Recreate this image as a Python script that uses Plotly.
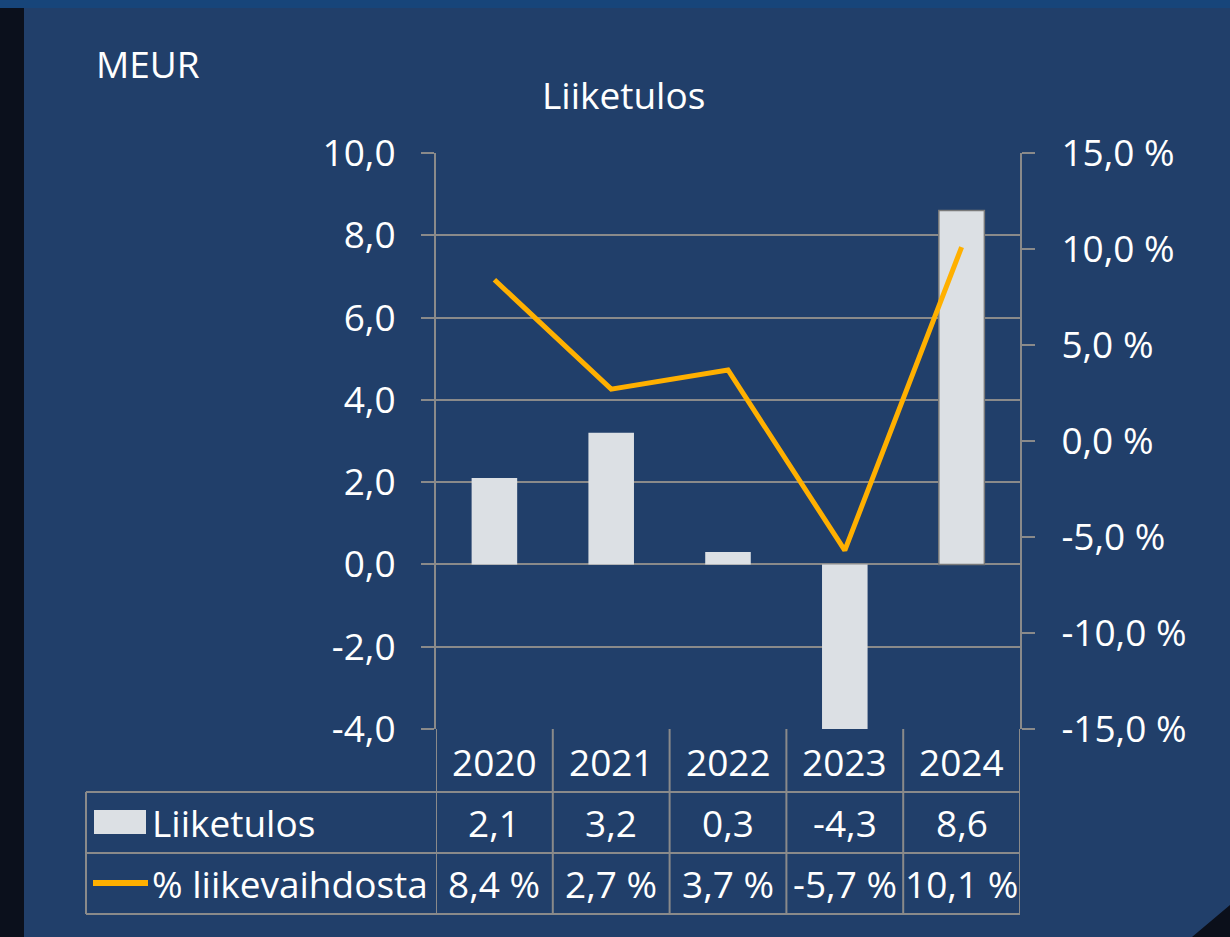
import plotly.graph_objects as go

# ---- data ----
years = ["2020", "2021", "2022", "2023", "2024"]
liiketulos = [2.1, 3.2, 0.3, -4.3, 8.6]
pct_liikevaihdosta = [8.4, 2.7, 3.7, -5.7, 10.1]
left_ticks = [-4, -2, 0, 2, 4, 6, 8, 10]
right_ticks = [-15, -10, -5, 0, 5, 10, 15]
series_names = ["Liiketulos", "% liikevaihdosta"]
chart_title = "Liiketulos"
unit_label = "MEUR"

# ---- layout helpers (pixel -> paper) ----
W, H = 1230, 937
def px(p):
    return p / W
def py(p):
    return 1 - p / H

X0, X1 = 436, 1020          # plot area left/right
YT, YB = 153, 729           # plot area top/bottom
ROW1, ROW2, ROW3 = 792, 853, 914

FONT = "Open Sans"
FS = 37
GRID = "#8a8a8a"
BAR = "#dce0e4"
LINE = "#FFB000"
WHITE = "#ffffff"

def fmt(v, suffix=""):
    return f"{v:.1f}".replace(".", ",") + suffix

fig = go.Figure()
fig.add_trace(go.Bar(
    x=years, y=liiketulos, name=series_names[0], width=0.39,
    marker=dict(color=BAR,
                line=dict(color=["rgba(0,0,0,0)"] * 4 + ["#7a7a7a"], width=1.5)),
    yaxis="y", showlegend=False,
))
fig.add_trace(go.Scatter(
    x=years, y=pct_liikevaihdosta, name=series_names[1], mode="lines",
    line=dict(color=LINE, width=5), yaxis="y2", showlegend=False,
))

shapes = []
# background panel
shapes.append(dict(type="rect", xref="paper", yref="paper", x0=0, x1=1, y0=py(8), y1=1,
                   fillcolor="#17457a", line_width=0, layer="below"))
shapes.append(dict(type="rect", xref="paper", yref="paper", x0=px(24), x1=1, y0=0, y1=py(8),
                   fillcolor="#213f6a", line_width=0, layer="below"))
shapes.append(dict(type="path", xref="paper", yref="paper",
                   path=f"M {px(1230)} {py(905)} L {px(1230)} {py(937)} L {px(1192)} {py(937)} Z",
                   fillcolor="#0b0f1a", line_width=0, layer="below"))

# table: vertical lines at category boundaries
for i in range(len(years) + 1):
    shapes.append(dict(type="line", xref="x", yref="paper", x0=i - 0.5, x1=i - 0.5,
                       y0=py(YB), y1=py(ROW3), line=dict(color=GRID, width=2)))
# first column left border
shapes.append(dict(type="line", xref="paper", yref="paper", x0=px(86), x1=px(86),
                   y0=py(ROW1), y1=py(ROW3), line=dict(color=GRID, width=2)))
# horizontal lines
for yy in (ROW1, ROW2, ROW3):
    shapes.append(dict(type="line", xref="paper", yref="paper", x0=px(86), x1=px(X1),
                       y0=py(yy), y1=py(yy), line=dict(color=GRID, width=2)))
# legend keys
shapes.append(dict(type="rect", xref="paper", yref="paper", x0=px(94), x1=px(146),
                   y0=py(834), y1=py(810), fillcolor=BAR, line_width=0))
shapes.append(dict(type="line", xref="paper", yref="paper", x0=px(93), x1=px(148),
                   y0=py(883), y1=py(883), line=dict(color=LINE, width=6)))

annotations = []
tf = dict(family=FONT, size=FS, color=WHITE)
annotations.append(dict(text=unit_label, xref="paper", yref="paper", x=px(94), y=py(63),
                        xanchor="left", yanchor="middle", showarrow=False, font=tf))
annotations.append(dict(text=chart_title, xref="paper", yref="paper", x=px(623), y=py(94),
                        xanchor="center", yanchor="middle", showarrow=False, font=tf))
for i, yr in enumerate(years):
    annotations.append(dict(text=yr, xref="x", yref="paper", x=i, y=py(761),
                            xanchor="center", yanchor="middle", showarrow=False, font=tf))
    annotations.append(dict(text=fmt(liiketulos[i]), xref="x", yref="paper", x=i, y=py(822),
                            xanchor="center", yanchor="middle", showarrow=False, font=tf))
    annotations.append(dict(text=fmt(pct_liikevaihdosta[i], " %"), xref="x", yref="paper", x=i,
                            y=py(883), xanchor="center", yanchor="middle", showarrow=False, font=tf))
annotations.append(dict(text=series_names[0], xref="paper", yref="paper", x=px(150), y=py(822),
                        xanchor="left", yanchor="middle", showarrow=False, font=tf))
annotations.append(dict(text=series_names[1], xref="paper", yref="paper", x=px(150), y=py(883),
                        xanchor="left", yanchor="middle", showarrow=False, font=tf))

fig.update_layout(
    width=W, height=H,
    margin=dict(l=0, r=0, t=0, b=0, pad=0, autoexpand=False),
    paper_bgcolor="#0b101c",
    plot_bgcolor="rgba(0,0,0,0)",
    font=dict(family=FONT, size=FS, color=WHITE),
    showlegend=False,
    xaxis=dict(domain=[px(X0), px(X1)], type="category", showticklabels=False,
               showgrid=False, showline=False, zeroline=False, ticks="",
               range=[-0.5, len(years) - 0.5]),
    yaxis=dict(domain=[py(YB), py(YT)], range=[-4, 10], tickvals=left_ticks,
               ticktext=[fmt(v) for v in left_ticks],
               showgrid=True, gridcolor=GRID, gridwidth=2,
               showline=True, linecolor=GRID, linewidth=2, zeroline=False,
               ticks="outside", ticklen=13, tickwidth=2, tickcolor=GRID,
               ticklabelstandoff=18, tickfont=tf),
    yaxis2=dict(overlaying="y", side="right", anchor="x", range=[-15, 15], tickvals=right_ticks,
                ticktext=[fmt(v, " %") for v in right_ticks], showgrid=False,
                showline=True, linecolor=GRID, linewidth=2, zeroline=False,
                ticks="outside", ticklen=13, tickwidth=2, tickcolor=GRID,
                ticklabelstandoff=19, tickfont=tf),
    shapes=shapes,
    annotations=annotations,
)

fig.write_html("out.html", config={"displayModeBar": False},
               post_script="document.body.style.margin='0';document.body.style.background='#0b101c';")
